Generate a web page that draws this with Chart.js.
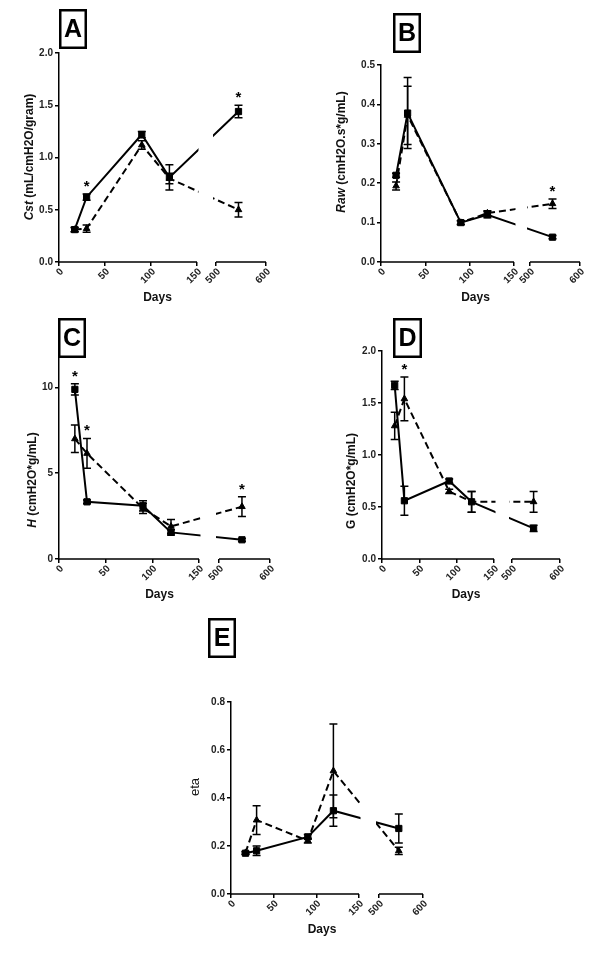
<!DOCTYPE html>
<html>
<head>
<meta charset="utf-8">
<script src="https://cdn.jsdelivr.net/npm/chart.js@4.4.1/dist/chart.umd.min.js"></script>
<style>
  body { margin: 0; background: #fff; width: 600px; height: 955px; position: relative; overflow: hidden; }
  canvas { position: absolute; }
</style>
</head>
<body>
<canvas id="chartA" width="300" height="310" style="left:0;top:0"></canvas>
<canvas id="chartB" width="300" height="310" style="left:300px;top:0"></canvas>
<canvas id="chartC" width="300" height="305" style="left:0;top:305px"></canvas>
<canvas id="chartD" width="300" height="305" style="left:300px;top:305px"></canvas>
<canvas id="chartE" width="300" height="345" style="left:150px;top:610px"></canvas>

<script>
// Sampling days and x tick labels (broken axis 0-150 | 500-600)
const days = [17, 30, 90, 120, 545];
const xTickDays = [0, 50, 100, 150, 500, 600];

// A - Cst
const cstSolid = [0.31, 0.62, 1.22, 0.81, 1.44];
const cstSolidErr = [0.02, 0.03, 0.03, 0.12, 0.06];
const cstDashed = [0.31, 0.32, 1.12, 0.80, 0.50];
const cstDashedErr = [0.02, 0.035, 0.04, 0.05, 0.07];
const cstStars = [30, 545];
const cstTicks = [0, 0.5, 1.0, 1.5, 2.0];

// B - Raw
const rawSolid = [0.22, 0.378, 0.10, 0.12, 0.063];
const rawSolidErr = [0.005, 0.09, 0.005, 0.008, 0.004];
const rawDashed = [0.193, 0.372, 0.10, 0.124, 0.148];
const rawDashedErr = [0.01, 0.074, 0.005, 0.006, 0.012];
const rawStars = [545];
const rawTicks = [0, 0.1, 0.2, 0.3, 0.4, 0.5];

// C - H
const hSolid = [9.88, 3.33, 3.1, 1.55, 1.12];
const hSolidErr = [0.33, 0.1, 0.3, 0.15, 0.08];
const hDashed = [7.0, 6.15, 2.95, 1.9, 3.05];
const hDashedErr = [0.8, 0.87, 0.3, 0.4, 0.58];
const hStars = [17, 30, 545];
const hTicks = [0, 5, 10];

// D - G
const gSolid = [1.67, 0.56, 0.75, 0.55, 0.295];
const gSolidErr = [0.04, 0.14, 0.02, 0.1, 0.03];
const gDashed = [1.28, 1.54, 0.65, 0.55, 0.55];
const gDashedErr = [0.13, 0.21, 0.02, 0.1, 0.1];
const gStars = [30];
const gTicks = [0, 0.5, 1.0, 1.5, 2.0];

// E - eta
const etaSolid = [0.17, 0.18, 0.238, 0.347, 0.273];
const etaSolidErr = [0.005, 0.02, 0.01, 0.065, 0.06];
const etaDashed = [0.172, 0.308, 0.222, 0.513, 0.18];
const etaDashedErr = [0.005, 0.06, 0.01, 0.195, 0.015];
const etaStars = [];
const etaTicks = [0, 0.2, 0.4, 0.6, 0.8];

const FAMILY = '"Liberation Sans", Arial, sans-serif';

function makePanel(p, d) {
  // pixel geometry of the broken axis -> axis units
  const unit = (p.s1 - p.left) / 150;
  const gap = (p.s2 - p.s1) / unit;
  const k = (p.right - p.s2) / unit / 100;
  const toAxis = v => v <= 150 ? v : 150 + gap + (v - 500) * k;
  const pts = vals => days.map((day, i) => ({ x: toAxis(day), y: vals[i] }));
  const font = { family: FAMILY, size: 10, weight: 'bold' };

  const extras = {
    id: 'extras',
    afterDatasetsDraw(chart) {
      const { ctx, chartArea: a, scales: { x, y } } = chart;
      ctx.save();
      // hide the lines inside the axis break
      const g1 = x.getPixelForValue(150) + 1.5, g2 = x.getPixelForValue(toAxis(500)) - 3;
      ctx.fillStyle = '#fff';
      ctx.fillRect(g1, a.top - 30, g2 - g1, a.bottom - a.top + 29);
      // broken x axis
      ctx.strokeStyle = '#000';
      ctx.lineWidth = 1.5;
      ctx.beginPath();
      ctx.moveTo(x.getPixelForValue(0), a.bottom);
      ctx.lineTo(x.getPixelForValue(150), a.bottom);
      ctx.moveTo(x.getPixelForValue(toAxis(500)), a.bottom);
      ctx.lineTo(x.getPixelForValue(toAxis(600)), a.bottom);
      ctx.stroke();
      // error bars
      chart.data.datasets.forEach(ds => {
        ds.data.forEach((pt, j) => {
          const e = ds.errors[j], px = x.getPixelForValue(pt.x);
          const y1 = y.getPixelForValue(pt.y + e), y2 = y.getPixelForValue(pt.y - e);
          ctx.beginPath();
          ctx.moveTo(px, y1); ctx.lineTo(px, y2);
          ctx.moveTo(px - 4, y1); ctx.lineTo(px + 4, y1);
          ctx.moveTo(px - 4, y2); ctx.lineTo(px + 4, y2);
          ctx.stroke();
        });
      });
      // significance stars
      ctx.fillStyle = '#000';
      ctx.font = 'bold 15px ' + FAMILY;
      ctx.textAlign = 'center';
      ctx.textBaseline = 'alphabetic';
      d.stars.forEach(day => {
        const i = days.indexOf(day);
        const top = Math.max(d.solid[i] + d.solidErr[i], d.dashed[i] + d.dashedErr[i]);
        ctx.fillText('*', x.getPixelForValue(toAxis(day)), y.getPixelForValue(top) - 3);
      });
      // x title
      ctx.fillStyle = '#111';
      ctx.font = 'bold 12px ' + FAMILY;
      ctx.textBaseline = 'middle';
      ctx.fillText('Days', (a.left + a.right) / 2 - 5, a.bottom + 36);
      // y title, first part italic
      const [it, rest] = d.title;
      const fIt = (d.titleBold ? 'italic bold ' : 'italic ') + '12px ' + FAMILY;
      const fRe = (d.titleBold ? 'bold 12px ' : '13px ') + FAMILY;
      ctx.font = fIt; const w1 = ctx.measureText(it).width;
      ctx.font = fRe; const w2 = ctx.measureText(rest).width;
      ctx.translate(p.titleX - p.cx, p.titleY - p.cy);
      ctx.rotate(-Math.PI / 2);
      ctx.textAlign = 'left';
      ctx.font = fIt; ctx.fillText(it, -(w1 + w2) / 2, 0);
      ctx.font = fRe; ctx.fillText(rest, -(w1 + w2) / 2 + w1, 0);
      ctx.restore();
    },
    afterDraw(chart) {
      // panel letter in a framed box
      const ctx = chart.ctx;
      const [bx, by, bw, bh] = [p.tag[0] - p.cx, p.tag[1] - p.cy, p.tag[2], p.tag[3]];
      ctx.save();
      ctx.fillStyle = '#fff';
      ctx.fillRect(bx, by, bw, bh);
      ctx.strokeStyle = '#000';
      ctx.lineWidth = 2.5;
      ctx.strokeRect(bx + 1.25, by + 1.25, bw - 2.5, bh - 2.5);
      ctx.fillStyle = '#000';
      ctx.font = 'bold 25px ' + FAMILY;
      ctx.textAlign = 'center';
      ctx.textBaseline = 'middle';
      ctx.fillText(d.letter, bx + bw / 2, by + bh / 2 + 1);
      ctx.restore();
    }
  };

  new Chart(document.getElementById(p.id), {
    type: 'line',
    data: {
      datasets: [
        { data: pts(d.solid), errors: d.solidErr, borderColor: '#000', borderWidth: 2,
          pointStyle: 'rect', pointRadius: 4.4, pointBackgroundColor: '#000', pointBorderColor: '#000',
          pointBorderWidth: 1, tension: 0, clip: false },
        { data: pts(d.dashed), errors: d.dashedErr, borderColor: '#000', borderWidth: 2, borderDash: [7, 4],
          pointStyle: 'triangle', pointRadius: 3.8, pointBackgroundColor: '#000', pointBorderColor: '#000',
          pointBorderWidth: 1, tension: 0, clip: false }
      ]
    },
    options: {
      responsive: false,
      animation: false,
      devicePixelRatio: 1,
      layout: { padding: { left: 0, top: p.top - p.cy, right: p.cx + p.w - p.right, bottom: 0 } },
      plugins: { legend: { display: false }, tooltip: { enabled: false } },
      scales: {
        x: {
          type: 'linear', min: 0, max: toAxis(600),
          afterBuildTicks: s => { s.ticks = xTickDays.map(v => ({ value: toAxis(v) })); },
          afterFit: s => { s.height = p.cy + p.h - p.bottom; },
          ticks: { autoSkip: false, minRotation: 45, maxRotation: 45, padding: 0, labelOffset: 3,
                   color: '#222', font, callback: (v, i) => xTickDays[i] },
          grid: { drawOnChartArea: false, tickLength: 4, color: '#000', lineWidth: 1.5 },
          border: { display: false }
        },
        y: {
          min: 0, max: d.yMax,
          afterBuildTicks: s => { s.ticks = d.yTicks.map(v => ({ value: v })); },
          afterFit: s => { s.width = p.left - p.cx; },
          ticks: { color: '#222', font, padding: 2, callback: v => v.toFixed(d.dec) },
          grid: { drawOnChartArea: false, tickLength: 4, color: '#000', lineWidth: 1.5 },
          border: { color: '#000', width: 1.5 }
        }
      }
    },
    plugins: [extras]
  });
}

makePanel(
  { id: 'chartA', cx: 0, cy: 0, w: 300, h: 310, left: 59, s1: 197, s2: 216, right: 266, top: 53, bottom: 262,
    titleX: 30, titleY: 157, tag: [59, 9, 28, 40] },
  { letter: 'A', solid: cstSolid, solidErr: cstSolidErr, dashed: cstDashed, dashedErr: cstDashedErr, stars: cstStars,
    yTicks: cstTicks, yMax: 2, dec: 1, title: ['Cst', ' (mL/cmH2O/gram)'], titleBold: true });
makePanel(
  { id: 'chartB', cx: 300, cy: 0, w: 300, h: 310, left: 381, s1: 514, s2: 530, right: 580, top: 65, bottom: 262,
    titleX: 342, titleY: 152, tag: [393, 13, 28, 40] },
  { letter: 'B', solid: rawSolid, solidErr: rawSolidErr, dashed: rawDashed, dashedErr: rawDashedErr, stars: rawStars,
    yTicks: rawTicks, yMax: 0.5, dec: 1, title: ['Raw', ' (cmH2O.s*g/mL)'], titleBold: true });
makePanel(
  { id: 'chartC', cx: 0, cy: 305, w: 300, h: 305, left: 59, s1: 199, s2: 219, right: 270, top: 353, bottom: 559,
    titleX: 33, titleY: 480, tag: [58, 318, 28, 40] },
  { letter: 'C', solid: hSolid, solidErr: hSolidErr, dashed: hDashed, dashedErr: hDashedErr, stars: hStars,
    yTicks: hTicks, yMax: 12, dec: 0, title: ['H', ' (cmH2O*g/mL)'], titleBold: true });
makePanel(
  { id: 'chartD', cx: 300, cy: 305, w: 300, h: 305, left: 382, s1: 494, s2: 512, right: 560, top: 351, bottom: 559,
    titleX: 352, titleY: 481, tag: [393, 318, 29, 40] },
  { letter: 'D', solid: gSolid, solidErr: gSolidErr, dashed: gDashed, dashedErr: gDashedErr, stars: gStars,
    yTicks: gTicks, yMax: 2, dec: 1, title: ['', 'G (cmH2O*g/mL)'], titleBold: true });
makePanel(
  { id: 'chartE', cx: 150, cy: 610, w: 300, h: 345, left: 231, s1: 359, s2: 379, right: 423, top: 702, bottom: 894,
    titleX: 195, titleY: 787, tag: [208, 618, 28, 40] },
  { letter: 'E', solid: etaSolid, solidErr: etaSolidErr, dashed: etaDashed, dashedErr: etaDashedErr, stars: etaStars,
    yTicks: etaTicks, yMax: 0.8, dec: 1, title: ['', 'eta'], titleBold: false });
</script>
</body>
</html>
